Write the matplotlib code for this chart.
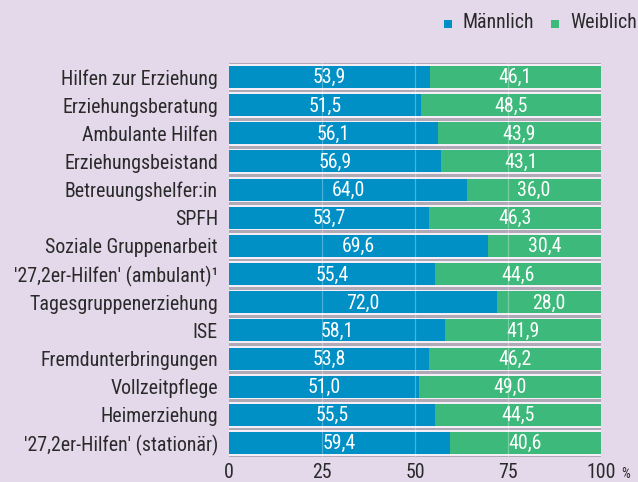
import matplotlib
matplotlib.use("Agg")
import matplotlib.pyplot as plt
from matplotlib.patches import Rectangle

categories = [
    "Hilfen zur Erziehung",
    "Erziehungsberatung",
    "Ambulante Hilfen",
    "Erziehungsbeistand",
    "Betreuungshelfer:in",
    "SPFH",
    "Soziale Gruppenarbeit",
    "'27,2er-Hilfen' (ambulant)\u00b9",
    "Tagesgruppenerziehung",
    "ISE",
    "Fremdunterbringungen",
    "Vollzeitpflege",
    "Heimerziehung",
    "'27,2er-Hilfen' (stationär)",
]
maennlich = [53.9, 51.5, 56.1, 56.9, 64.0, 53.7, 69.6, 55.4, 72.0, 58.1, 53.8, 51.0, 55.5, 59.4]
weiblich = [46.1, 48.5, 43.9, 43.1, 36.0, 46.3, 30.4, 44.6, 28.0, 41.9, 46.2, 49.0, 44.5, 40.6]
xticks = [0, 25, 50, 75, 100]
series_names = ["Männlich", "Weiblich"]

BG = "#e3d9ea"
BLUE = "#0090c6"
GREEN = "#3dba7b"
TEXT = "#2a2a2a"

plt.rcParams['font.family'] = ['Roboto Condensed', 'Archivo Narrow', 'PT Sans Narrow',
                               'Sofia Sans Condensed', 'DejaVu Sans']
FS = 14.3

fig = plt.figure(figsize=(6.38, 4.82), dpi=100, facecolor=BG)
ax = fig.add_axes([0.359, 0.0517, 0.583, 0.8178])
ax.set_facecolor(BG)

n = len(categories)
ys = list(range(n))
bh = 0.78

# frame/shadow behind each bar
for y in ys:
    ax.add_patch(Rectangle((-0.3, y - bh / 2 - 0.13), 100.6, bh + 0.26,
                           facecolor="#f4eff6", edgecolor="none", zorder=1))
    ax.add_patch(Rectangle((-0.3, y - bh / 2 - 0.13), 100.6, 0.07,
                           facecolor="#b0a9b6", edgecolor="none", zorder=1.5))
    ax.add_patch(Rectangle((-0.3, y + bh / 2 + 0.06), 100.6, 0.07,
                           facecolor="#b0a9b6", edgecolor="none", zorder=1.5))

ax.barh(ys, maennlich, height=bh, color=BLUE, zorder=2)
ax.barh(ys, weiblich, left=maennlich, height=bh, color=GREEN, zorder=2)

for x in [25, 50, 75]:
    ax.axvline(x, color="white", lw=0.9, alpha=0.3, zorder=3)

for y, m, w in zip(ys, maennlich, weiblich):
    ax.text(m / 2, y + 0.03, f"{m:.1f}".replace(".", ","), color="white",
            ha="center", va="center", fontsize=FS, zorder=4)
    ax.text(m + w / 2, y + 0.03, f"{w:.1f}".replace(".", ","), color="white",
            ha="center", va="center", fontsize=FS, zorder=4)

ax.set_xlim(0, 100)
ax.set_ylim(n - 0.5, -0.5)
ax.set_yticks(ys)
ax.set_yticklabels(categories, fontsize=FS, color=TEXT)
ax.set_xticks(xticks)
ax.set_xticklabels([str(t) for t in xticks], fontsize=FS, color=TEXT)
ax.tick_params(axis="both", length=0)
ax.tick_params(axis="y", pad=8)
ax.tick_params(axis="x", pad=4)
for s in ax.spines.values():
    s.set_visible(False)

fig.text(621 / 638, 1 - 474 / 482, "%", fontsize=10, color=TEXT, ha="left", va="center")

# legend
fig.patches.append(Rectangle((444 / 638, 1 - 28 / 482), 8 / 638, 8 / 482,
                             transform=fig.transFigure, facecolor=BLUE, edgecolor="none"))
fig.text(463 / 638, 1 - 23 / 482, series_names[0], fontsize=FS, color=TEXT, va="center")
fig.patches.append(Rectangle((551 / 638, 1 - 28 / 482), 8 / 638, 8 / 482,
                             transform=fig.transFigure, facecolor=GREEN, edgecolor="none"))
fig.text(570 / 638, 1 - 23 / 482, series_names[1], fontsize=FS, color=TEXT, va="center")

fig.savefig("out.png", dpi=100, facecolor=BG)
